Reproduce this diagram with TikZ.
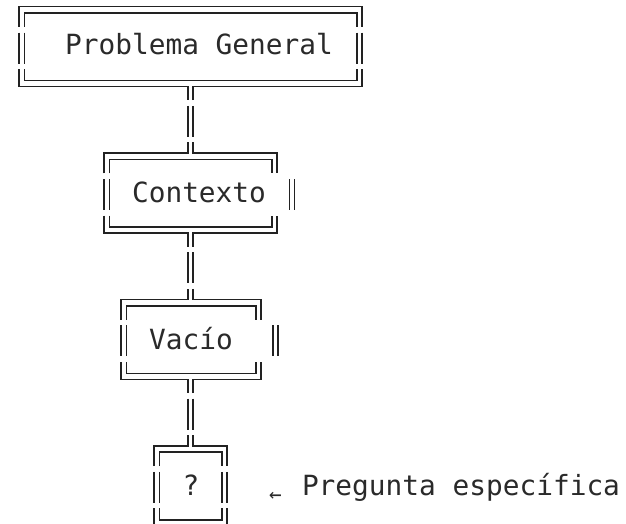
\documentclass[tikz,border=0pt]{standalone}
\usepackage{fontspec}
\setmonofont{DejaVu Sans Mono}
\definecolor{ink}{HTML}{222222}
\definecolor{tink}{HTML}{2A2A2A}
\newcommand\cxl{188}
\newcommand\cxr{193}
% top row of a box; #1 row start, #2 outer left x, #3 outer right x
\newcommand\toprowplain[3]{%
  \pgfmathsetmacro\yo{#1+10.5}\pgfmathsetmacro\yi{#1+17}\pgfmathsetmacro\ye{#1+31}%
  \pgfmathsetmacro\xil{#2+5.5}\pgfmathsetmacro\xir{#3-5}%
  \draw[frame] (#2,\ye) -- (#2,\yo) -- (#3,\yo) -- (#3,\ye);
  \draw[frame] (\xil,\ye) -- (\xil,\yi) -- (\xir,\yi) -- (\xir,\ye);}
\newcommand\toprowjunc[3]{%
  \pgfmathsetmacro\yo{#1+10.5}\pgfmathsetmacro\yi{#1+17}\pgfmathsetmacro\ye{#1+31}%
  \pgfmathsetmacro\xil{#2+5.5}\pgfmathsetmacro\xir{#3-5}%
  \draw[frame] (#2,\ye) -- (#2,\yo) -- (\cxl,\yo) -- (\cxl,#1);
  \draw[frame] (\cxr,#1) -- (\cxr,\yo) -- (#3,\yo) -- (#3,\ye);
  \draw[frame] (\xil,\ye) -- (\xil,\yi) -- (\xir,\yi) -- (\xir,\ye);}
% middle row; #1 row start, #2 outer left x, #3 outer right x
\newcommand\midrow[3]{%
  \pgfmathsetmacro\ye{#1+31}\pgfmathsetmacro\xil{#2+5.5}\pgfmathsetmacro\xir{#3-5}%
  \draw[frame] (#2,#1) -- (#2,\ye) (\xil,#1) -- (\xil,\ye)
               (\xir,#1) -- (\xir,\ye) (#3,#1) -- (#3,\ye);}
% bottom row
\newcommand\botrowjunc[3]{%
  \pgfmathsetmacro\ybi{#1+11.5}\pgfmathsetmacro\ybo{#1+17.5}\pgfmathsetmacro\ye{#1+31}%
  \pgfmathsetmacro\xil{#2+5.5}\pgfmathsetmacro\xir{#3-5}%
  \draw[frame] (\xil,#1) -- (\xil,\ybi) -- (\xir,\ybi) -- (\xir,#1);
  \draw[frame] (#2,#1) -- (#2,\ybo) -- (\cxl,\ybo) -- (\cxl,\ye);
  \draw[frame] (\cxr,\ye) -- (\cxr,\ybo) -- (#3,\ybo) -- (#3,#1);}
\newcommand\botrowplain[3]{%
  \pgfmathsetmacro\ybi{#1+11.5}\pgfmathsetmacro\ybo{#1+17.5}%
  \pgfmathsetmacro\xil{#2+5.5}\pgfmathsetmacro\xir{#3-5}%
  \draw[frame] (\xil,#1) -- (\xil,\ybi) -- (\xir,\ybi) -- (\xir,#1);
  \draw[frame] (#2,#1) -- (#2,\ybo) -- (#3,\ybo) -- (#3,#1);}
% connector row between boxes
\newcommand\conrow[2]{%
  \pgfmathsetmacro\ye{#1+31}%
  \coordinate (#2-l1) at (\cxl,#1); \coordinate (#2-l2) at (\cxl,\ye);
  \coordinate (#2-r1) at (\cxr,#1); \coordinate (#2-r2) at (\cxr,\ye);
  \draw[frame] (#2-l1) -- (#2-l2) (#2-r1) -- (#2-r2);}
\begin{document}
\begin{tikzpicture}[x=1pt,y=-1pt,
  frame/.style={line width=1.6pt, draw=ink, line cap=butt, line join=miter},
  lbl/.style={font=\ttfamily\fontsize{27.8}{30}\selectfont, text=tink, inner sep=0pt, anchor=base}]
\useasboundingbox (0,0) rectangle (626,524);
\fill[white] (0,0) rectangle (626,524);
% Box 1
\toprowplain{-4}{19}{362}
\midrow{32.6}{19}{362}
\botrowjunc{69.2}{19}{362}
\node[lbl] (t1) at (199,55) {Problema General};
\conrow{105.8}{c1}
% Box 2
\toprowjunc{142.4}{104}{277}
\midrow{179}{104}{294.5}
\botrowjunc{215.6}{104}{277}
\node[lbl] (t2) at (199,202) {Contexto};
\conrow{252.2}{c2}
% Box 3
\toprowjunc{288.8}{121}{261}
\midrow{325.4}{121}{278}
\botrowjunc{362}{121}{261}
\node[lbl] (t3) at (191,349) {Vacío};
\conrow{398.6}{c3}
% Box 4
\toprowjunc{435.2}{154}{227}
\midrow{471.8}{154}{227}
\botrowplain{508.4}{154}{227}
\node[lbl] (t4) at (191,495) {?};
\node[lbl, font=\ttfamily\fontsize{21}{23}\selectfont] (arr) at (275.5,501) {←};
\node[lbl] (t5) at (461,495) {Pregunta específica};
\end{tikzpicture}
\end{document}
